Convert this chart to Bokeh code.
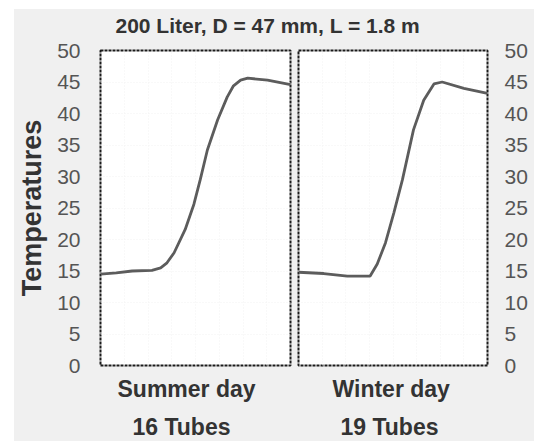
from bokeh.plotting import figure
from bokeh.layouts import column, row
from bokeh.models import Range1d, Title, SingleIntervalTicker, Label
from bokeh.embed import file_html
from bokeh.resources import INLINE

title_text = "200 Liter,  D = 47 mm,  L = 1.8 m"
y_label = "Temperatures"

summer_label = ["Summer day", "16 Tubes"]
summer_hours = [0, 2, 4, 6.5, 7.6, 8.4, 9.3, 10.7, 11.8, 12.6, 13.5, 14.8, 16.0, 16.8, 17.7, 18.6, 21.1, 24]
summer_temp = [14.5, 14.7, 15.0, 15.1, 15.5, 16.3, 17.9, 21.6, 25.6, 29.5, 34.2, 39.0, 42.6, 44.4, 45.3, 45.6, 45.3, 44.6]

winter_label = ["Winter day", "19 Tubes"]
winter_hours = [0, 3.2, 6.2, 9.1, 10.0, 11.05, 12.1, 13.2, 14.6, 15.9, 17.2, 18.25, 21.0, 24]
winter_temp = [14.8, 14.6, 14.2, 14.2, 16.1, 19.5, 24.2, 29.5, 37.4, 42.1, 44.7, 45.0, 44.0, 43.2]

BG = "#f0f0f0"
FONT = "Liberation Sans"
TOP_H = 29

top = figure(width=520, height=TOP_H, output_backend="svg", toolbar_location=None,
             x_axis_location=None, y_axis_location=None,
             min_border_left=0, min_border_right=0, min_border_top=0, min_border_bottom=0,
             border_fill_color=BG, background_fill_color=BG, outline_line_color=None,
             x_range=Range1d(0, 520), y_range=Range1d(0, TOP_H))
top.grid.visible = False
top.add_layout(Label(x=101, y=13, text=title_text,
                     text_font=FONT, text_font_size="21px", text_font_style="bold",
                     text_color="#333333", text_align="left", text_baseline="middle"))


def panel(hours, temps, labels, offsets, side, width, mbl, mbr):
    p = figure(width=width, height=441 - 9 - TOP_H, output_backend="svg", toolbar_location=None,
               x_range=Range1d(0, 24), y_range=Range1d(0, 50),
               x_axis_location=None, y_axis_location=side,
               min_border_left=mbl, min_border_right=mbr, min_border_top=12, min_border_bottom=74,
               border_fill_color=BG, background_fill_color="white")
    p.outline_line_color = "#1a1a1a"
    p.outline_line_width = 2
    p.outline_line_dash = "3 1"
    p.line(hours, temps, line_color="#5c5c5c", line_width=2.8)
    ax = p.yaxis[0]
    ax.ticker = SingleIntervalTicker(interval=5)
    ax.axis_line_color = None
    ax.major_tick_line_color = None
    ax.minor_tick_line_color = None
    ax.major_label_text_font = FONT
    ax.major_label_text_font_size = "21px"
    ax.major_label_text_color = "#555555"
    ax.major_label_standoff = 14 if side == "left" else 11
    p.xgrid.ticker = SingleIntervalTicker(interval=3)
    p.grid.grid_line_color = "#f3f3f3"
    p.grid.grid_line_dash = "1 2"
    for t, off, so in zip(labels, offsets, [17, 3]):
        ttl = Title(text=t, align="left", text_font=FONT, text_font_size="23px",
                    text_font_style="bold", text_color="#333333", standoff=so, offset=off)
        p.add_layout(ttl, "below")
    return p


left = panel(summer_hours, summer_temp, summer_label, [17, 32], "left", 280, 86, 4)
left.yaxis[0].axis_label = y_label
left.yaxis[0].axis_label_text_font = FONT
left.yaxis[0].axis_label_text_font_size = "27px"
left.yaxis[0].axis_label_text_font_style = "bold"
left.yaxis[0].axis_label_text_color = "#333333"
left.yaxis[0].axis_label_standoff = 7

right = panel(winter_hours, winter_temp, winter_label, [34, 42], "right", 240, 4, 47)

layout = column(top, row(left, right, spacing=0), spacing=0)
layout.margin = (9, 0, 0, 14)
layout.styles = {"background-color": BG}

open("out.html", "w").write(file_html(layout, INLINE))
